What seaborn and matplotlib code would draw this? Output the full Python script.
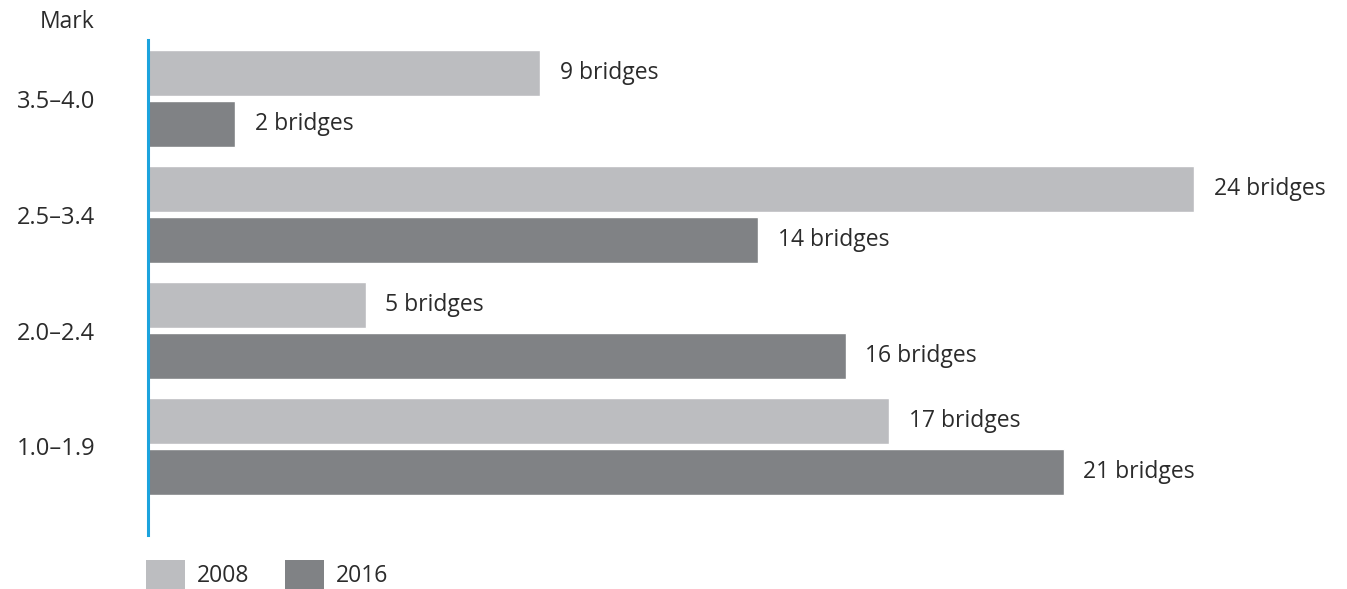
import pandas as pd
import numpy as np
import seaborn as sns
import matplotlib.pyplot as plt
from matplotlib.patches import Patch

marks = ['3.5–4.0', '2.5–3.4', '2.0–2.4', '1.0–1.9']
years = ['2008', '2016']
bridges_2008 = [9, 24, 5, 17]
bridges_2016 = [2, 14, 16, 21]

colors = {'2008': '#bcbdc0', '2016': '#808285'}

df = pd.DataFrame({
    'mark': marks * 2,
    'year': ['2008'] * len(marks) + ['2016'] * len(marks),
    'bridges': bridges_2008 + bridges_2016,
})

sns.set_style('white')
plt.rcParams['font.family'] = ['Open Sans', 'DejaVu Sans']
fs = 16.5

fig = plt.figure(figsize=(13.47, 5.89), dpi=100)
ax = fig.add_axes([148 / 1347, 1 - 535 / 589, 1 - 148 / 1347, 495 / 589])

sns.barplot(data=df, y='mark', x='bridges', hue='year', order=marks,
            hue_order=years, palette=colors, orient='h', width=0.88, gap=0.1,
            saturation=1, legend=False, ax=ax)

for cont in ax.containers:
    ax.bar_label(cont, labels=[f'{int(v)} bridges' for v in cont.datavalues],
                 padding=14, fontsize=fs, color='#2b2b2b')

ax.set_xlim(0, 1199 / 43.6)
ax.set_ylim(3.765, -0.508)
ax.set_xlabel('')
ax.set_ylabel('')
ax.set_xticks([])
for s in ['top', 'right', 'bottom']:
    ax.spines[s].set_visible(False)
ax.spines['left'].set_color('#1ba3dd')
ax.spines['left'].set_linewidth(2.2)
ax.tick_params(axis='y', length=0, pad=38, labelsize=fs + 0.5, labelcolor='#2b2b2b')

fig.text(95 / 1347, 1 - 22 / 589, 'Mark', ha='right', va='center',
         fontsize=fs, color='#2b2b2b')

handles = [Patch(facecolor=colors[y], edgecolor='none', label=y) for y in years]
fig.legend(handles=handles, loc='lower left', bbox_to_anchor=(146 / 1347, 0),
           ncol=2, frameon=False, fontsize=fs, handlelength=1.7, handleheight=1.55,
           handletextpad=0.5, columnspacing=1.6, borderpad=0, borderaxespad=0,
           labelcolor='#2b2b2b')

fig.savefig('out.png', dpi=100)
